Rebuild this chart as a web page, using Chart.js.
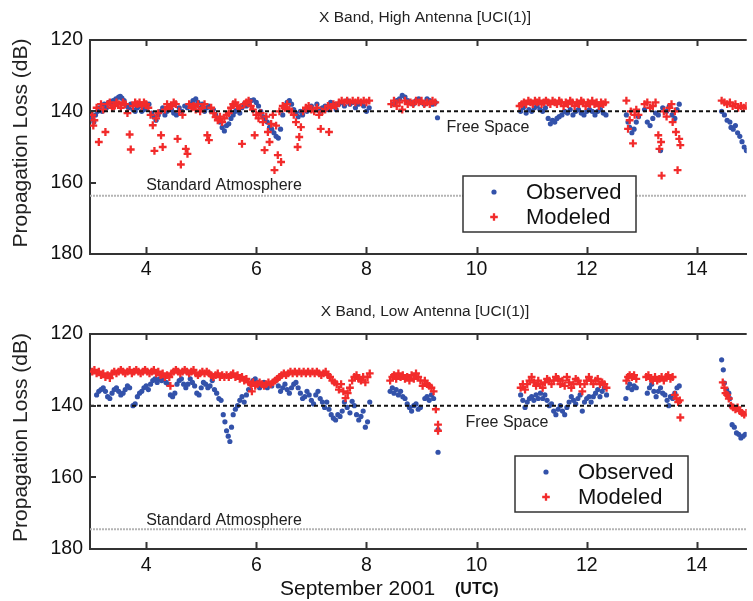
<!DOCTYPE html>
<html>
<head>
<meta charset="utf-8">
<script src="https://cdn.jsdelivr.net/npm/chart.js@4.4.0/dist/chart.umd.min.js"></script>
<style>
  html, body { margin: 0; padding: 0; background: #fff; }
  #wrap { position: relative; width: 753px; height: 601px; overflow: hidden; }
  canvas { position: absolute; left: 0; }
</style>
</head>
<body>
<div id="wrap">
  <canvas id="high" width="753" height="285" style="top:0"></canvas>
  <canvas id="low" width="753" height="311" style="top:290px"></canvas>
</div>
<script>
// axis ticks (days of September 2001, propagation loss in dB)
const dayTicks = [4, 6, 8, 10, 12, 14];
const lossTicks = [120, 140, 160, 180];
const dayRange = [2.98, 14.905];

// reference levels
const freeSpace = 140;
const stdAtmosHigh = 163.7;
const stdAtmosLow = 174.5;

// high antenna: observed (blue dots)
const highObserved = [
  [3.02,142],[3.05,143],[3.08,141],[3.12,140],[3.15,139],[3.2,140],[3.24,138],[3.28,139],[3.32,137.5],[3.36,138],
  [3.4,137],[3.45,136.5],[3.5,136],[3.53,135.8],[3.56,136.3],[3.6,137],[3.64,138.5],[3.68,139],[3.72,138],[3.76,139.5],
  [3.8,140],[3.84,139],[3.88,138.5],[3.92,140],[3.96,139.5],[4.0,139],[4.05,138],[4.1,140.5],[4.14,141.5],[4.18,142.5],
  [4.22,141],[4.26,140],[4.3,139],[4.34,141],[4.38,140],[4.42,138.5],[4.46,139.5],[4.5,140.5],[4.55,141],[4.6,139],
  [4.65,140],[4.7,138.5],[4.75,139],[4.8,138],[4.85,137],[4.9,136.5],[4.94,137.5],[4.98,139],[5.02,138],[5.06,140],
  [5.1,139],[5.14,138.5],[5.18,140],[5.22,139.5],[5.26,141],[5.3,142],[5.34,143],[5.38,144.5],[5.42,145.5],[5.46,144],
  [5.5,143.5],[5.54,142],[5.58,141],[5.62,140],[5.66,139.5],[5.7,140.5],[5.74,139],[5.78,138],[5.82,138.5],[5.86,137.5],
  [5.9,137],[5.95,136.8],[6.0,137.5],[6.04,138.5],[6.08,140],[6.12,141.5],[6.16,142],[6.2,143],[6.24,144.5],[6.28,145],
  [6.32,146],[6.36,147],[6.4,147.5],[6.44,145],[6.48,141],[6.52,139],[6.56,137.5],[6.6,137],[6.64,138],[6.68,139.5],
  [6.72,140.5],[6.76,141.5],[6.8,140],[6.84,141],[6.88,139.5],[6.92,140],[6.96,139],[7.0,138.5],[7.05,139.5],[7.1,138],
  [7.15,140],[7.2,139],[7.25,138.5],[7.3,139.5],[7.35,137.5],[7.4,138],[7.45,139.5],[7.5,138],[7.55,137.5],[7.6,138.5],
  [7.65,137],[7.7,138],[7.75,137.5],[7.8,139],[7.85,138],[7.9,137.5],[7.95,138.5],[8.0,140],[8.05,139],
  [8.5,138],[8.55,137],[8.6,136.5],[8.65,135.5],[8.7,136],[8.75,137],[8.8,137.5],[8.85,138],[8.9,137],[8.95,136.5],
  [9.0,137.5],[9.05,138],[9.1,136.5],[9.15,137],[9.2,138],[9.25,137.5],[9.29,141.8],
  [10.8,140],[10.85,139],[10.9,140.5],[10.95,139.5],[11.0,140],[11.05,139],[11.1,138.5],[11.15,139.5],[11.2,140],[11.25,139],
  [11.3,142],[11.34,143.5],[11.38,142.5],[11.42,143],[11.46,142],[11.5,141.5],[11.55,141],[11.6,140],[11.65,140.5],[11.7,139.5],
  [11.75,141],[11.8,140],[11.85,139.5],[11.9,140.5],[11.95,141],[12.0,140],[12.05,139.5],[12.1,140],[12.15,141],[12.2,140],
  [12.25,139.5],[12.3,140.5],[12.35,141],
  [12.72,141],[12.75,143],[12.78,144.5],[12.82,146],[12.86,145],[12.9,143],[12.94,141.5],[13.05,139.5],[13.1,143],[13.15,144],
  [13.2,142],[13.25,140.5],[13.3,141],[13.34,151],[13.38,139],[13.45,140],[13.5,138.5],[13.55,141],[13.6,142],[13.64,139.5],[13.68,138],
  [14.45,140],[14.5,141],[14.55,142.5],[14.6,143],[14.62,144.5],[14.66,145],[14.7,144],[14.74,146],[14.78,147],[14.82,148.5],
  [14.86,150],[14.9,151]
];

// high antenna: modeled (red crosses)
const highModeled = [
  [3.02,141],[3.04,144],[3.06,142.5],[3.1,139],[3.14,148.6],[3.18,138],[3.22,139.5],[3.26,145.8],[3.3,138],[3.34,137.5],
  [3.38,139],[3.42,138.5],[3.46,137.5],[3.5,138],[3.54,139],[3.58,137.5],[3.62,138],[3.66,140.5],[3.7,146.5],[3.72,150.7],
  [3.76,138.5],[3.8,137.5],[3.84,138],[3.88,137.5],[3.92,138.5],[3.96,137.5],[4.0,138],[4.04,139],[4.08,141],[4.12,143.9],
  [4.15,151.1],[4.18,142],[4.22,140.5],[4.27,146.7],[4.3,150],[4.34,139.5],[4.38,138],[4.42,139],[4.46,138.5],[4.5,137.5],
  [4.54,138],[4.57,147.7],[4.6,140],[4.63,154.9],[4.66,141],[4.72,150.5],[4.75,151.9],[4.78,138],[4.82,139],[4.86,138.5],
  [4.9,139.5],[4.94,138],[4.98,140],[5.02,139],[5.06,138],[5.11,146.7],[5.14,148.1],[5.18,139],[5.22,140.5],[5.26,141.6],
  [5.3,142.5],[5.34,141.5],[5.38,143],[5.42,142],[5.46,141],[5.5,140.5],[5.54,139],[5.58,138],[5.62,137.5],[5.66,138.5],
  [5.7,139],[5.74,149.1],[5.78,138],[5.82,137.5],[5.86,137],[5.9,138.5],[5.94,139.5],[5.97,146.7],[6.0,141],[6.04,142],
  [6.08,140.5],[6.12,143],[6.15,150.9],[6.18,141.5],[6.21,145.8],[6.24,148.6],[6.27,143.5],[6.3,141],[6.33,156.5],[6.36,144],
  [6.39,152.3],[6.42,140],[6.45,154.2],[6.48,138.5],[6.52,139],[6.56,138],[6.6,139.5],[6.64,140],[6.68,141],[6.72,143],
  [6.75,150],[6.78,147.2],[6.81,144.4],[6.85,140],[6.9,139],[6.95,138.5],[7.0,139.5],[7.05,140],[7.1,139],[7.14,141],
  [7.17,144.9],[7.2,140],[7.25,139.5],[7.3,138.5],[7.32,145.8],[7.36,139],[7.4,138],[7.45,138.5],[7.5,137.5],[7.55,137],
  [7.6,137.5],[7.65,137],[7.7,137.5],[7.75,137],[7.8,137.5],[7.85,137],[7.9,137.5],[7.95,137],[8.0,137.5],[8.05,137],
  [8.45,138],[8.5,137],[8.55,138.5],[8.6,137.5],[8.65,139.5],[8.7,137],[8.75,138],[8.8,137.5],[8.85,138],[8.9,137],
  [8.95,137.5],[9.0,137],[9.05,138],[9.1,137.5],[9.15,138],[9.2,137],[9.25,137.5],
  [10.78,138.5],[10.82,138],[10.86,137.5],[10.9,138],[10.94,137],[10.98,137.5],[11.02,138],[11.06,137],[11.1,137.5],[11.14,137],
  [11.18,138],[11.22,137.5],[11.26,137],[11.3,137.5],[11.34,138],[11.38,137],[11.42,137.5],[11.46,138],[11.5,137],[11.54,137.5],
  [11.58,138.5],[11.62,137.5],[11.66,138],[11.7,137],[11.74,137.5],[11.78,138.5],[11.82,137.5],[11.86,138],[11.9,137],[11.94,137.5],
  [11.98,138.5],[12.02,137.5],[12.06,138],[12.1,137],[12.14,138],[12.18,137.5],[12.22,138.5],[12.26,137.5],[12.3,138],[12.34,137.5],
  [12.72,137],[12.75,144.9],[12.78,142.5],[12.8,140],[12.84,149],[12.87,141],[12.9,139.5],[12.94,141],[13.05,138],[13.1,137.5],
  [13.15,139],[13.2,138.5],[13.25,137.5],[13.3,146.7],[13.32,150.5],[13.35,148.6],[13.36,158],[13.4,140],[13.45,141.5],[13.5,139],
  [13.54,138],[13.56,143],[13.6,140],[13.62,145.8],[13.65,156.5],[13.68,147.7],[13.7,149.5],
  [14.45,137],[14.5,137.5],[14.55,138],[14.6,137.5],[14.65,138.5],[14.7,138],[14.75,139],[14.8,138.5],[14.85,139],[14.9,138.5]
];

// low antenna: observed (blue dots)
const lowObserved = [
  [3.1,137],[3.14,136],[3.18,135.5],[3.22,135],[3.26,136],[3.3,137.5],[3.34,138],[3.38,136.5],[3.42,135.5],[3.46,135],
  [3.5,136],[3.54,137],[3.58,136.5],[3.62,135.5],[3.66,134.5],[3.7,135],[3.76,140],[3.8,139.5],[3.84,137.5],[3.88,136.5],
  [3.92,136],[3.96,135],[4.0,134.5],[4.04,135.5],[4.08,134],[4.12,133],[4.16,132.5],[4.2,133.5],[4.24,132.5],[4.28,133],
  [4.32,132.3],[4.36,133.5],[4.4,134],[4.44,137],[4.48,137.5],[4.52,136.5],[4.56,134],[4.6,133],[4.64,132.5],[4.68,134],
  [4.72,135],[4.76,134],[4.8,132.5],[4.84,133.5],[4.88,134.5],[4.92,136.5],[4.96,137],[5.0,135],[5.04,133.5],[5.08,134],
  [5.12,135],[5.16,134.5],[5.2,133],[5.24,135.5],[5.28,136.5],[5.32,138],[5.36,138.5],[5.4,142.5],[5.43,144.5],[5.46,147],
  [5.49,148.5],[5.52,150],[5.55,146],[5.58,142.5],[5.62,141],[5.66,140],[5.7,138.5],[5.74,137.5],[5.78,139],[5.82,137],
  [5.86,135.5],[5.9,134],[5.94,133],[5.98,132.5],[6.02,133.5],[6.06,135],[6.1,134],[6.14,133.5],[6.2,135],[6.28,134.5],
  [6.35,133],[6.4,134.5],[6.44,136],[6.48,135],[6.52,134],[6.56,135.5],[6.6,136.5],[6.64,135],[6.68,134],[6.72,133.5],
  [6.76,135],[6.8,136.5],[6.84,138],[6.88,137.5],[6.92,136],[6.96,137],[7.0,138.5],[7.04,139.5],[7.08,137],[7.12,136],
  [7.16,138],[7.2,139],[7.24,140.5],[7.28,139],[7.32,141],[7.36,142.5],[7.4,143.5],[7.44,144],[7.48,142.5],[7.52,143],
  [7.56,141.5],[7.6,139],[7.65,140.5],[7.7,142],[7.74,138.8],[7.78,140],[7.82,142.5],[7.86,144],[7.9,143],[7.94,141.5],
  [7.98,146],[8.02,144.5],[8.06,139],
  [8.43,136],[8.47,135],[8.5,136.5],[8.54,135.5],[8.58,137],[8.62,136],[8.66,137.5],[8.7,138],[8.74,139.5],[8.78,140.5],
  [8.82,141.5],[8.86,140],[8.9,139.5],[8.94,141],[8.98,140.5],[9.06,138],[9.1,137.5],[9.14,138.5],[9.18,137],[9.22,138],
  [9.3,146.7],[9.3,153],
  [10.8,137],[10.84,138.5],[10.88,140.5],[10.92,139],[10.96,138],[11.0,137.5],[11.04,138.5],[11.08,137],[11.12,138],[11.16,136.5],
  [11.2,138],[11.24,137],[11.28,138.5],[11.32,140],[11.36,139.5],[11.4,141.5],[11.44,142.5],[11.48,141],[11.52,140],[11.56,141.5],
  [11.6,142.5],[11.64,140.5],[11.68,139],[11.72,137.5],[11.76,138.5],[11.8,139.5],[11.84,138],[11.88,137],[11.92,141.5],[11.96,139],
  [12.0,138],[12.04,137.5],[12.08,139],[12.12,137.5],[12.16,136.5],[12.2,135.5],[12.24,137.5],[12.28,136],[12.32,135],[12.36,137],
  [12.71,138],[12.75,135],[12.78,134],[12.82,135.5],[12.86,134.5],[12.9,135],[13.1,136.5],[13.14,135],[13.18,134],[13.22,136],
  [13.26,137.5],[13.3,136],[13.34,135],[13.38,136.5],[13.42,137],[13.46,138.5],[13.49,140],[13.52,137.5],[13.56,138],[13.6,136.5],
  [13.64,135],[13.68,134.5],
  [14.45,127.2],[14.48,130],[14.5,133.7],[14.54,135.5],[14.58,136.5],[14.6,138],[14.62,140],[14.64,145.3],[14.68,146],[14.72,147.6],
  [14.76,148],[14.8,149],[14.84,148.5],[14.88,148]
];

// low antenna: modeled (red crosses)
const lowModeled = [
  [3.02,130.5],[3.06,130],[3.1,131],[3.14,130.5],[3.18,131.5],[3.22,131],[3.26,132],[3.3,131.5],[3.34,132.3],[3.38,131],
  [3.42,130.5],[3.46,131],[3.5,130.5],[3.54,130],[3.58,130.5],[3.62,131],[3.66,130.5],[3.7,130],[3.74,131],[3.78,130.5],
  [3.82,130],[3.86,130.5],[3.9,131],[3.94,130.5],[3.98,130],[4.02,130.5],[4.06,131],[4.1,130.5],[4.14,130],[4.18,131],
  [4.22,130.5],[4.26,131.5],[4.3,131],[4.34,132],[4.38,131.5],[4.42,132],[4.44,134.5],[4.46,131],[4.5,130.5],[4.54,130],
  [4.58,130.5],[4.62,131],[4.66,130.5],[4.7,130],[4.74,130.5],[4.78,131],[4.82,130.5],[4.86,130],[4.9,131],[4.94,131.5],
  [4.98,131],[5.02,130.5],[5.06,131],[5.1,130.5],[5.14,131],[5.18,131.5],[5.22,132],[5.26,131.5],[5.3,131],[5.34,132],
  [5.38,131.5],[5.42,132],[5.46,131.5],[5.5,132],[5.54,131.5],[5.58,131],[5.62,132],[5.66,131.5],[5.7,132.5],[5.74,132],
  [5.78,133],[5.82,132.5],[5.86,133.5],[5.9,134],[5.92,136],[5.94,133.5],[5.98,134.5],[6.02,134],[6.06,133.5],[6.1,134],
  [6.14,134.5],[6.18,134],[6.22,133.5],[6.26,134],[6.3,133.5],[6.34,133],[6.38,132.5],[6.42,132],[6.46,131.5],[6.5,131],
  [6.54,131.5],[6.58,131],[6.62,130.5],[6.66,131],[6.7,130.5],[6.74,131],[6.78,130.5],[6.82,131],[6.86,130.5],[6.9,131],
  [6.94,130.5],[6.98,131],[7.02,130.5],[7.06,131],[7.1,130.5],[7.14,131],[7.18,131.5],[7.22,131],[7.26,130.5],[7.3,131.5],
  [7.34,132],[7.38,133],[7.42,133.5],[7.46,134],[7.5,135.5],[7.54,134],[7.58,136],[7.62,137.9],[7.66,136.5],[7.7,135],
  [7.74,133],[7.78,132],[7.82,131.5],[7.86,132.5],[7.9,133],[7.94,132],[7.98,133.5],[8.02,132],[8.06,131],
  [8.43,133],[8.47,132],[8.5,131.5],[8.54,132.5],[8.58,131],[8.62,132],[8.66,131.5],[8.7,132.5],[8.74,132],[8.78,133],
  [8.82,131.5],[8.86,132.5],[8.9,131],[8.94,132],[8.98,133],[9.02,134.5],[9.06,133],[9.1,134],[9.14,134.5],[9.18,135],
  [9.22,136],[9.26,141],[9.3,145.3],[9.3,147],
  [10.8,135],[10.84,134],[10.88,135.5],[10.92,134],[10.96,133],[11.0,132],[11.04,133.5],[11.08,134.5],[11.12,133],[11.16,134],
  [11.2,135],[11.24,133.5],[11.28,132.5],[11.32,133],[11.36,134],[11.4,133],[11.44,132],[11.48,132.5],[11.52,134],[11.56,133],
  [11.6,134.5],[11.64,132],[11.68,133.5],[11.72,135],[11.76,134],[11.8,132.5],[11.84,133],[11.88,134],[11.92,136],[11.96,134],
  [12.0,133],[12.04,132],[12.08,133],[12.12,134],[12.16,133],[12.2,132.5],[12.24,134],[12.28,133.5],[12.32,134],[12.36,135],
  [12.72,133],[12.75,132],[12.78,131.5],[12.82,132],[12.86,131.5],[12.9,132.5],[13.08,132],[13.12,131.5],[13.16,132.5],[13.2,133],
  [13.24,132],[13.28,133],[13.32,132.5],[13.36,132],[13.4,133],[13.44,132],[13.48,131.5],[13.52,132.5],[13.56,132],[13.6,137],
  [13.63,138],[13.66,139],[13.69,138.5],[13.7,143.3],
  [14.47,133.5],[14.5,135],[14.52,136.5],[14.55,137],[14.58,138],[14.62,140],[14.66,140.5],[14.7,141],[14.74,140.5],[14.78,141.5],
  [14.82,142],[14.86,142.5],[14.9,142]
];

const FONT = '"Liberation Sans", Arial, Helvetica, sans-serif';
const AXIS = '#333';
const BLUE = '#3352aa';
const RED = '#f22b2b';

const toXY = arr => arr.map(p => ({ x: p[0], y: p[1] }));

// MATLAB-ish frame: top border, inward ticks, titles, annotations, boxed legend
const framePlugin = {
  id: 'frame',
  afterDatasetsDraw(chart, args, opts) {
    const { ctx, chartArea: a, scales: { x, y } } = chart;
    ctx.save();
    ctx.strokeStyle = AXIS;
    ctx.lineWidth = 2;
    ctx.beginPath();
    ctx.moveTo(a.left, a.top);
    ctx.lineTo(a.right, a.top);
    dayTicks.forEach(d => {
      const px = Math.round(x.getPixelForValue(d)) + 0.5;
      ctx.moveTo(px, a.bottom); ctx.lineTo(px, a.bottom - 7);
      ctx.moveTo(px, a.top); ctx.lineTo(px, a.top + 6);
    });
    lossTicks.forEach(v => {
      const py = Math.round(y.getPixelForValue(v));
      ctx.moveTo(a.left, py); ctx.lineTo(a.left + 6, py);
    });
    ctx.stroke();

    ctx.fillStyle = '#222';
    ctx.textBaseline = 'middle';
    // panel title
    ctx.font = '15.5px ' + FONT;
    ctx.textAlign = 'center';
    ctx.fillText(opts.title, 425, a.top - 22);
    // line annotations
    ctx.font = '16px ' + FONT;
    ctx.textAlign = 'left';
    ctx.fillText('Free Space', x.getPixelForValue(opts.freeAt[0]), y.getPixelForValue(opts.freeAt[1]));
    ctx.fillText('Standard Atmosphere', x.getPixelForValue(opts.stdAt[0]), y.getPixelForValue(opts.stdAt[1]));

    // y axis title
    ctx.save();
    ctx.translate(21, (a.top + a.bottom) / 2 - 4);
    ctx.rotate(-Math.PI / 2);
    ctx.textAlign = 'center';
    ctx.font = '21px ' + FONT;
    ctx.fillText('Propagation Loss (dB)', 0, 0);
    ctx.restore();

    // legend box
    const lx = a.left + opts.legend[0], ly = a.top + opts.legend[1];
    const lw = 173, lh = 56;
    ctx.fillStyle = '#fff';
    ctx.fillRect(lx, ly, lw, lh);
    ctx.strokeStyle = AXIS;
    ctx.lineWidth = 1.5;
    ctx.strokeRect(lx, ly, lw, lh);
    const items = chart.data.datasets.filter(ds => ds.inLegend);
    items.forEach((ds, i) => {
      const cy = ly + 16 + i * 25;
      const mx = lx + 31;
      if (ds.pointStyle === 'cross') {
        ctx.strokeStyle = ds.borderColor;
        ctx.lineWidth = 2.3;
        ctx.beginPath();
        ctx.moveTo(mx - 3.8, cy); ctx.lineTo(mx + 3.8, cy);
        ctx.moveTo(mx, cy - 3.8); ctx.lineTo(mx, cy + 3.8);
        ctx.stroke();
      } else {
        ctx.fillStyle = ds.backgroundColor;
        ctx.beginPath();
        ctx.arc(mx, cy, 2.6, 0, Math.PI * 2);
        ctx.fill();
      }
      ctx.fillStyle = '#111';
      ctx.font = '22px ' + FONT;
      ctx.textAlign = 'left';
      ctx.fillText(ds.label, lx + 63, cy + 1);
    });

    if (opts.xTitle) {
      ctx.fillStyle = '#111';
      ctx.textAlign = 'left';
      ctx.font = '21px ' + FONT;
      ctx.fillText('September 2001', 280, chart.height - 12);
      ctx.font = 'bold 16px ' + FONT;
      ctx.fillText('(UTC)', 455, chart.height - 11);
    }
    ctx.restore();
  }
};

function makePanel(id, observed, modeled, stdLevel, opts) {
  const canvas = document.getElementById(id);
  const plotTop = opts.plotTop, xHeight = opts.xHeight;
  return new Chart(canvas, {
    type: 'scatter',
    data: {
      datasets: [
        {
          label: 'Free Space',
          data: [{ x: dayRange[0], y: freeSpace }, { x: dayRange[1], y: freeSpace }],
          showLine: true, borderColor: '#111', borderWidth: 2, borderDash: [4, 3],
          pointRadius: 0, order: 0
        },
        {
          label: 'Standard Atmosphere',
          data: [{ x: dayRange[0], y: stdLevel }, { x: dayRange[1], y: stdLevel }],
          showLine: true, borderColor: '#b4b4b4', borderWidth: 2, borderDash: [2, 1],
          pointRadius: 0, order: 3
        },
        {
          label: 'Observed', inLegend: true,
          data: toXY(observed),
          backgroundColor: BLUE, borderColor: BLUE, borderWidth: 0,
          pointRadius: 2.6, order: 2
        },
        {
          label: 'Modeled', inLegend: true,
          data: toXY(modeled),
          pointStyle: 'cross', borderColor: RED, backgroundColor: RED,
          pointRadius: 3.9, borderWidth: 2.3, order: 1
        }
      ]
    },
    options: {
      responsive: false,
      animation: false,
      events: [],
      layout: { padding: { top: plotTop, left: 0, right: 0, bottom: 0 } },
      plugins: {
        legend: { display: false },
        tooltip: { enabled: false },
        frame: opts.frame
      },
      scales: {
        x: {
          type: 'linear',
          min: dayRange[0],
          max: dayRange[1],
          afterBuildTicks: s => { s.ticks = dayTicks.map(v => ({ value: v })); },
          afterFit: s => { s.height = xHeight; },
          grid: { display: false, drawTicks: false },
          border: { display: true, color: AXIS, width: 2 },
          ticks: { color: '#111', padding: opts.xPad, font: { family: FONT, size: 19.5 } }
        },
        y: {
          type: 'linear',
          reverse: true,
          min: 120,
          max: 180,
          afterBuildTicks: s => { s.ticks = lossTicks.map(v => ({ value: v })); },
          afterFit: s => { s.width = 90; },
          grid: { display: false, drawTicks: false },
          border: { display: true, color: AXIS, width: 2 },
          ticks: { color: '#111', padding: 7, font: { family: FONT, size: 19.5 } }
        }
      }
    },
    plugins: [framePlugin]
  });
}

makePanel('high', highObserved, highModeled, stdAtmosHigh, {
  plotTop: 40, xHeight: 31, xPad: 4,
  frame: {
    title: 'X Band, High Antenna [UCI(1)]',
    freeAt: [9.455, 144.5],
    stdAt: [4.0, 160.7],
    legend: [373, 136]
  }
});

makePanel('low', lowObserved, lowModeled, stdAtmosLow, {
  plotTop: 44, xHeight: 52, xPad: 5,
  frame: {
    title: 'X Band, Low Antenna [UCI(1)]',
    freeAt: [9.8, 144.8],
    stdAt: [4.0, 172],
    legend: [425, 122],
    xTitle: true
  }
});
</script>
</body>
</html>
